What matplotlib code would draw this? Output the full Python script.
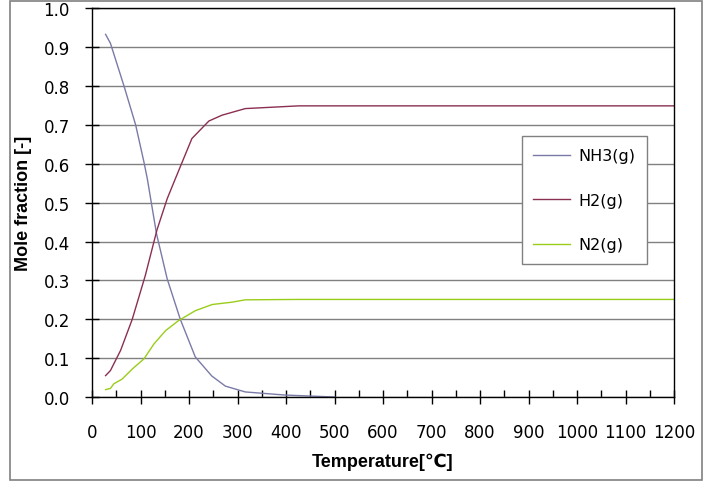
import matplotlib.pyplot as plt
from matplotlib.patches import Rectangle
from matplotlib.ticker import MultipleLocator

# temperature [C] and mole fractions
t_nh3 = [28, 38, 66, 90, 107, 114, 133, 155, 182, 213, 247, 275, 316, 398, 500]
nh3 = [0.933, 0.91, 0.80, 0.70, 0.605, 0.562, 0.42, 0.304, 0.20, 0.103, 0.054, 0.028, 0.013, 0.005, 0.0]

t_h2 = [28, 38, 59, 83, 110, 134, 155, 172, 206, 241, 268, 316, 426, 1200]
h2 = [0.055, 0.068, 0.12, 0.20, 0.313, 0.43, 0.51, 0.562, 0.665, 0.71, 0.725, 0.742, 0.749, 0.749]

t_n2 = [28, 38, 45, 62, 83, 107, 128, 152, 179, 213, 248, 289, 316, 426, 1200]
n2 = [0.019, 0.022, 0.034, 0.046, 0.072, 0.098, 0.137, 0.171, 0.197, 0.222, 0.238, 0.244, 0.25, 0.251, 0.251]

W, H = 712, 489
fig = plt.figure(figsize=(W / 100, H / 100), dpi=100)
ax = fig.add_axes([92 / W, 1 - 398 / H, 582 / W, 388.7 / H])

# outer chart frame like the Excel chart area
fig.patches.append(Rectangle((10 / W, 1 - 481 / H), 692 / W, 479 / H, transform=fig.transFigure,
                             fill=False, edgecolor='#808080', linewidth=1.2))

ax.plot(t_nh3, nh3, color='#7a7aa8', lw=1, label='NH3(g)')
ax.plot(t_h2, h2, color='#8b2f52', lw=1, label='H2(g)')
ax.plot(t_n2, n2, color='#9acd1a', lw=1, label='N2(g)')

ax.set_xlim(0, 1200)
ax.set_ylim(0, 1.0)
ax.xaxis.set_major_locator(MultipleLocator(100))
ax.xaxis.set_minor_locator(MultipleLocator(50))
ax.yaxis.set_major_locator(MultipleLocator(0.1))
ax.yaxis.set_major_formatter(plt.FormatStrFormatter('%.1f'))
ax.grid(axis='y', color='#808080', lw=1)
ax.set_axisbelow(True)

for s in ax.spines.values():
    s.set_color('black')
    s.set_linewidth(1)

tick_family = ['DejaVu Sans']
ax.tick_params(which='major', direction='inout', length=10, width=1, colors='black')
ax.tick_params(which='minor', direction='in', length=5, width=1)
ax.tick_params(axis='x', which='major', pad=14)
ax.tick_params(axis='y', which='major', pad=11)
for lab in ax.get_xticklabels() + ax.get_yticklabels():
    lab.set_fontfamily(tick_family)
    lab.set_fontsize(12)

label_family = ['Liberation Sans', 'DejaVu Sans']
ax.set_xlabel('Temperature[℃]', fontsize=13, fontweight='bold', family=label_family, labelpad=8)
ax.set_ylabel('Mole fraction [-]', fontsize=13, fontweight='bold', family=label_family, labelpad=8)

leg = ax.legend(loc='upper left', bbox_to_anchor=(0.738, 0.671), fontsize=11.5,
                frameon=True, fancybox=False, framealpha=1, edgecolor='#808080',
                handlelength=2.3, handletextpad=0.5, labelspacing=1.85,
                borderpad=0.75, borderaxespad=0)
leg.get_frame().set_linewidth(1)

fig.savefig('out.png', dpi=100)
